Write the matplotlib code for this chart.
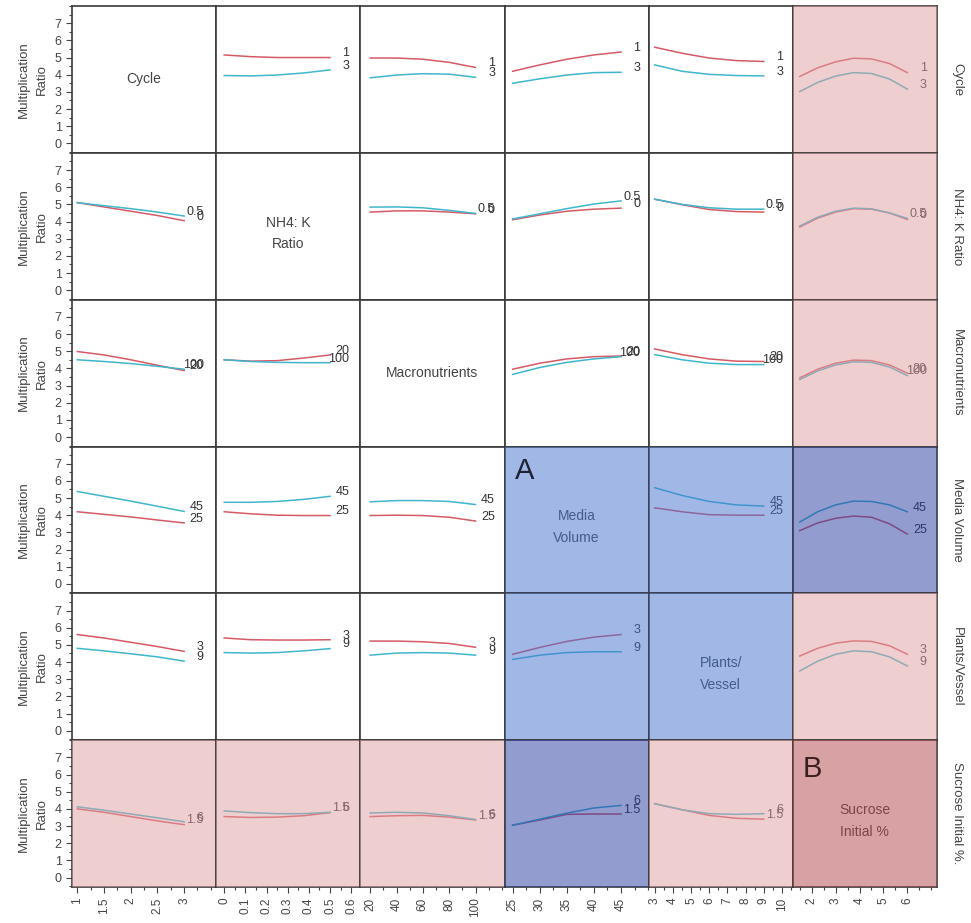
import matplotlib.pyplot as plt
import numpy as np
from matplotlib.colors import to_rgb
from matplotlib.patches import Rectangle
from matplotlib.ticker import FixedLocator, FixedFormatter, MultipleLocator

plt.rcParams['font.family'] = ['Liberation Sans', 'DejaVu Sans']

# Factores del diseño (filas y columnas de la matriz)
factores = ["Cycle", "NH4: K Ratio", "Macronutrients", "Media Volume",
            "Plants/Vessel", "Sucrose Initial %."]
titulos_diag = ["Cycle", "NH4: K\nRatio", "Macronutrients", "Media\nVolume",
                "Plants/\nVessel", "Sucrose\nInitial %"]
niveles_bajo = ["1", "0", "20", "25", "3", "1.5"]
niveles_alto = ["3", "0.5", "100", "45", "9", "6"]

# Valores de x donde se leen los perfiles de cada factor
x_cycle = [1, 1.5, 2, 2.5, 3]
x_nh4k = [0, 0.125, 0.25, 0.375, 0.5]
x_macro = [20, 40, 60, 80, 100]
x_media = [25, 30, 35, 40, 45]
x_plantas = [3, 4.5, 6, 7.5, 9]
x_sacarosa = [1.5, 2.25, 3, 3.75, 4.5, 5.25, 6]

# Ticks del eje x de cada columna
ticks_cycle = [1, 1.5, 2, 2.5, 3]
ticks_nh4k = [0, 0.1, 0.2, 0.3, 0.4, 0.5, 0.6]
ticks_macro = [20, 40, 60, 80, 100]
ticks_media = [25, 30, 35, 40, 45]
ticks_plantas = [3, 4, 5, 6, 7, 8, 9, 10]
ticks_sacarosa = [2, 3, 4, 5, 6]

# Multiplication Ratio: fila = factor con dos niveles, columna = factor en x
cycle_1 = [None,
           [5.15, 5.05, 5.0, 5.0, 5.0],
           [4.97, 4.97, 4.9, 4.72, 4.42],
           [4.2, 4.57, 4.9, 5.15, 5.32],
           [5.6, 5.25, 4.97, 4.82, 4.77],
           [3.9, 4.4, 4.75, 4.96, 4.92, 4.65, 4.12]]
cycle_3 = [None,
           [3.95, 3.93, 3.98, 4.1, 4.28],
           [3.82, 3.98, 4.06, 4.03, 3.85],
           [3.5, 3.76, 3.98, 4.12, 4.14],
           [4.57, 4.2, 4.02, 3.95, 3.93],
           [3.02, 3.55, 3.92, 4.12, 4.07, 3.75, 3.16]]

nh4k_0 = [[5.1, 4.85, 4.6, 4.35, 4.05],
          None,
          [4.55, 4.62, 4.62, 4.55, 4.45],
          [4.1, 4.38, 4.6, 4.72, 4.78],
          [5.3, 4.98, 4.7, 4.58, 4.55],
          [3.68, 4.2, 4.55, 4.75, 4.72, 4.5, 4.12]]
nh4k_05 = [[5.1, 4.92, 4.75, 4.55, 4.32],
           None,
           [4.84, 4.85, 4.8, 4.65, 4.47],
           [4.15, 4.45, 4.75, 5.02, 5.2],
           [5.3, 5.0, 4.8, 4.72, 4.72],
           [3.74, 4.25, 4.6, 4.78, 4.74, 4.5, 4.18]]

macro_20 = [[4.98, 4.78, 4.5, 4.18, 3.87],
            [4.5, 4.42, 4.45, 4.6, 4.78],
            None,
            [3.95, 4.3, 4.55, 4.68, 4.72],
            [5.13, 4.8, 4.55, 4.42, 4.4],
            [3.45, 3.95, 4.3, 4.48, 4.45, 4.2, 3.72]]
macro_100 = [[4.5, 4.4, 4.28, 4.12, 3.95],
             [4.5, 4.4, 4.35, 4.33, 4.33],
             None,
             [3.65, 4.05, 4.35, 4.55, 4.68],
             [4.8, 4.5, 4.3, 4.22, 4.22],
             [3.35, 3.85, 4.2, 4.38, 4.35, 4.08, 3.58]]

media_25 = [[4.2, 4.05, 3.9, 3.72, 3.55],
            [4.2, 4.08, 4.0, 3.98, 3.98],
            [3.98, 4.0, 3.98, 3.88, 3.66],
            None,
            [4.43, 4.2, 4.03, 4.0, 4.0],
            [3.1, 3.55, 3.82, 3.95, 3.88, 3.5, 2.9]]
media_45 = [[5.38, 5.1, 4.82, 4.52, 4.22],
            [4.75, 4.75, 4.8, 4.92, 5.1],
            [4.78, 4.85, 4.85, 4.8, 4.62],
            None,
            [5.6, 5.15, 4.8, 4.6, 4.53],
            [3.6, 4.2, 4.6, 4.82, 4.8, 4.6, 4.2]]

plantas_3 = [[5.6, 5.4, 5.15, 4.9, 4.62],
             [5.4, 5.3, 5.28, 5.28, 5.3],
             [5.22, 5.22, 5.18, 5.08, 4.86],
             [4.45, 4.85, 5.2, 5.45, 5.6],
             None,
             [4.35, 4.8, 5.1, 5.23, 5.2, 4.95, 4.45]]
plantas_9 = [[4.8, 4.65, 4.48, 4.3, 4.05],
             [4.55, 4.52, 4.55, 4.65, 4.78],
             [4.4, 4.52, 4.55, 4.52, 4.4],
             [4.15, 4.4, 4.55, 4.6, 4.6],
             None,
             [3.48, 4.05, 4.45, 4.65, 4.6, 4.3, 3.77]]

sacarosa_15 = [[4.0, 3.8, 3.55, 3.3, 3.08],
               [3.55, 3.5, 3.52, 3.6, 3.78],
               [3.55, 3.6, 3.62, 3.52, 3.35],
               [3.05, 3.35, 3.68, 3.7, 3.7],
               [4.3, 3.95, 3.62, 3.45, 3.4],
               None]
sacarosa_6 = [[4.12, 3.92, 3.7, 3.48, 3.25],
              [3.88, 3.78, 3.72, 3.72, 3.8],
              [3.76, 3.8, 3.76, 3.6, 3.38],
              [3.05, 3.4, 3.75, 4.05, 4.2],
              [4.3, 3.95, 3.72, 3.68, 3.72],
              None]

xs = [x_cycle, x_nh4k, x_macro, x_media, x_plantas, x_sacarosa]
ticks_x = [ticks_cycle, ticks_nh4k, ticks_macro, ticks_media, ticks_plantas, ticks_sacarosa]
curvas_bajo = [cycle_1, nh4k_0, macro_20, media_25, plantas_3, sacarosa_15]
curvas_alto = [cycle_3, nh4k_05, macro_100, media_45, plantas_9, sacarosa_6]

limites_x = [(0.9, 3.6), (-0.038, 0.643), (12.5, 122), (23.5, 50.1), (2.67, 10.6), (1.21, 7.24)]
menores_x = [0.25, 0.05, 10, 2.5, 0.5, 0.5]

# Celdas resaltadas (color final sobre blanco)
rosa = '#efcfd0'
rosa_fuerte = '#d9a2a4'
azul = '#a2b9e8'
morado = '#939dd0'
realces = {(0, 5): rosa, (1, 5): rosa, (2, 5): rosa, (4, 5): rosa,
           (5, 0): rosa, (5, 1): rosa, (5, 2): rosa, (5, 4): rosa,
           (5, 5): rosa_fuerte,
           (3, 3): azul, (3, 4): azul, (4, 3): azul, (4, 4): azul,
           (3, 5): morado, (5, 3): morado}
ALFA = 0.5


def capa(color):
    # color de la capa translúcida que deja el blanco en 'color'
    t = np.array(to_rgb(color))
    c = (t - (1 - ALFA)) / ALFA
    return tuple(np.clip(c, 0, 1))


def fmt(v):
    return ("%g" % v)


rojo = '#d65a66'
cian = '#3fb6cc'
gris = '#3a3a3a'

fig = plt.figure(figsize=(9.71, 9.23), dpi=100)
gs = fig.add_gridspec(6, 6, left=72 / 971, right=937 / 971,
                      top=1 - 6 / 923, bottom=1 - 887 / 923,
                      wspace=0, hspace=0)

for r in range(6):
    for c in range(6):
        ax = fig.add_subplot(gs[r, c])
        ax.set_xlim(*limites_x[c])
        ax.set_ylim(-0.55, 8.0)
        for s in ax.spines.values():
            s.set_color(gris)
            s.set_linewidth(1.2)

        if r == c:
            ax.text(0.5, 0.5 if r in (0, 2) else 0.45, titulos_diag[r],
                    transform=ax.transAxes, ha='center', va='center',
                    fontsize=10, color='#444444', linespacing=1.7, zorder=4)
        else:
            x = xs[c]
            yb = curvas_bajo[r][c]
            ya = curvas_alto[r][c]
            ax.plot(x, yb, color=rojo, lw=1.1, zorder=3)
            ax.plot(x, ya, color=cian, lw=1.1, zorder=3)
            for yy, txt in ((yb, niveles_bajo[r]), (ya, niveles_alto[r])):
                ax.annotate(txt, (x[-1], yy[-1]), xytext=(14, 3),
                            textcoords='offset points', ha='right', va='center',
                            fontsize=9, color='#333333', zorder=4)

        if (r, c) in realces:
            ax.add_patch(Rectangle((0, 0), 1, 1, transform=ax.transAxes,
                                   facecolor=capa(realces[(r, c)]), alpha=ALFA,
                                   edgecolor='none', zorder=5, clip_on=False))

        # eje y solo en la primera columna
        if c == 0:
            ax.yaxis.set_major_locator(FixedLocator(range(8)))
            ax.yaxis.set_minor_locator(MultipleLocator(0.5))
            ax.tick_params(axis='y', which='major', length=4, labelsize=9,
                           colors='#444444', width=0.8)
            ax.tick_params(axis='y', which='minor', length=2, width=0.8, colors='#444444')
            ax.set_ylabel("Multiplication\nRatio", fontsize=9.5, color='#444444',
                          linespacing=1.6)
            ax.yaxis.set_label_coords(-0.17, 0.5)
        else:
            ax.set_yticks([])

        # eje x solo en la última fila
        if r == 5:
            ax.xaxis.set_major_locator(FixedLocator(ticks_x[c]))
            ax.xaxis.set_major_formatter(FixedFormatter([fmt(t) for t in ticks_x[c]]))
            ax.xaxis.set_minor_locator(MultipleLocator(menores_x[c]))
            ax.tick_params(axis='x', which='major', length=4, labelsize=8.5,
                           colors='#444444', labelrotation=90, width=0.8)
            ax.tick_params(axis='x', which='minor', length=2, width=0.8, colors='#444444')
        else:
            ax.set_xticks([])

        if (r, c) == (3, 3):
            ax.text(0.07, 0.93, "A", transform=ax.transAxes, ha='left', va='top',
                    fontsize=21, color='#1c2233', zorder=6)
        if (r, c) == (5, 5):
            ax.text(0.07, 0.9, "B", transform=ax.transAxes, ha='left', va='top',
                    fontsize=21, color='#3b1f1f', zorder=6)

    # nombre del factor a la derecha de cada fila
    y_centro = 1 - (6 + 146.8 * (r + 0.5)) / 923
    fig.text(957 / 971, y_centro, factores[r], rotation=270, ha='center',
             va='center', fontsize=9.5, color='#444444')

fig.savefig("out.png", dpi=100)
